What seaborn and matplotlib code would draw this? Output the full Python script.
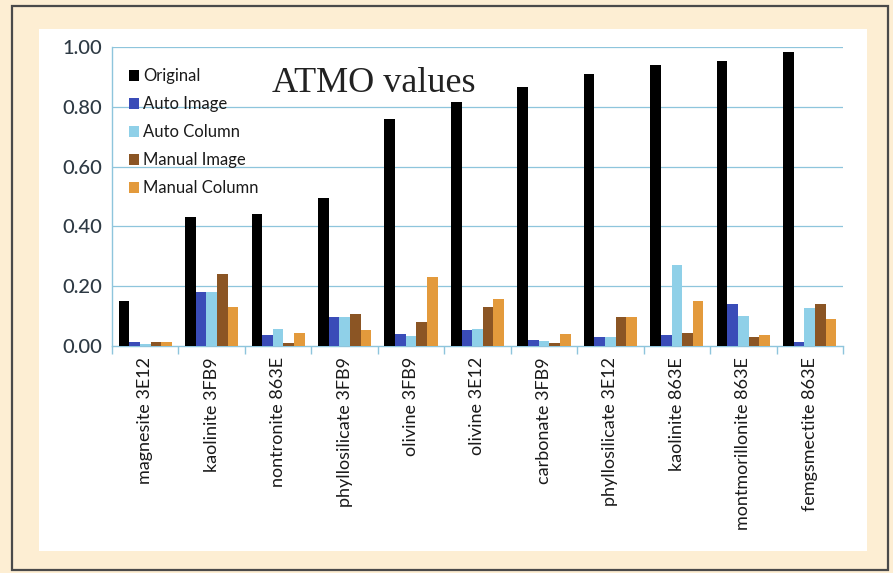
import matplotlib
matplotlib.use("Agg")
import matplotlib.pyplot as plt
import seaborn as sns
import pandas as pd
import numpy as np
from matplotlib.patches import Rectangle
from matplotlib.ticker import FixedLocator, FormatStrFormatter

categories = ["magnesite 3E12", "kaolinite 3FB9", "nontronite 863E", "phyllosilicate 3FB9",
              "olivine 3FB9", "olivine 3E12", "carbonate 3FB9", "phyllosilicate 3E12",
              "kaolinite 863E", "montmorillonite 863E", "femgsmectite 863E"]
series = ["Original", "Auto Image", "Auto Column", "Manual Image", "Manual Column"]
original      = [0.150, 0.432, 0.440, 0.495, 0.759, 0.816, 0.867, 0.909, 0.940, 0.954, 0.982]
auto_image    = [0.012, 0.180, 0.037, 0.096, 0.039, 0.054, 0.019, 0.031, 0.037, 0.140, 0.012]
auto_column   = [0.008, 0.180, 0.057, 0.096, 0.033, 0.058, 0.017, 0.031, 0.271, 0.099, 0.128]
manual_image  = [0.013, 0.242, 0.010, 0.106, 0.079, 0.131, 0.011, 0.096, 0.043, 0.030, 0.140]
manual_column = [0.013, 0.130, 0.045, 0.054, 0.230, 0.158, 0.039, 0.096, 0.152, 0.037, 0.089]
yticks = [0.0, 0.2, 0.4, 0.6, 0.8, 1.0]
colors = ["#000000", "#3a4cb8", "#8fd0e8", "#8b5524", "#e39a3c"]

values = [original, auto_image, auto_column, manual_image, manual_column]
df = pd.DataFrame({
    "category": [c for s in series for c in categories],
    "series": [s for s in series for c in categories],
    "value": [v for vals in values for v in vals],
})

sns.set_style("white")
plt.rcParams["font.family"] = ["Lato", "DejaVu Sans"]

W, H = 893, 573
fig = plt.figure(figsize=(W / 100, H / 100), dpi=100)
fig.patch.set_facecolor("#fdeed3")

# outer border and inner white panel
fig.patches.append(Rectangle((12 / W, 1 - 570 / H), (888 - 12) / W, (570 - 6) / H,
                             transform=fig.transFigure, facecolor="none",
                             edgecolor="#4a4a4a", lw=1.6, zorder=-10))
fig.patches.append(Rectangle((39 / W, 1 - 551 / H), (867 - 39) / W, (551 - 29) / H,
                             transform=fig.transFigure, facecolor="white",
                             edgecolor="none", zorder=-10))

ax = fig.add_axes([112 / W, 1 - 346 / H, (843 - 112) / W, (346 - 47) / H])
ax.set_facecolor("none")
ax.set_zorder(5)

sns.barplot(data=df, x="category", y="value", hue="series", order=categories,
            hue_order=series, palette=colors, width=0.8, saturation=1,
            edgecolor="none", linewidth=0, ax=ax, zorder=3)

grid_c = "#8ec5dc"
ax.set_ylim(0, 1.0)
ax.set_xlim(-0.5, len(categories) - 0.5)
ax.set_yticks(yticks)
ax.yaxis.set_major_formatter(FormatStrFormatter("%.2f"))
for y in yticks[1:]:
    ax.axhline(y, color=grid_c, lw=0.9, zorder=1)

for side in ["top", "right"]:
    ax.spines[side].set_visible(False)
for side in ["left", "bottom"]:
    ax.spines[side].set_color(grid_c)
    ax.spines[side].set_linewidth(1.0)

ax.tick_params(axis="y", which="major", length=6, width=1.0, color=grid_c,
               labelsize=14.5, labelcolor="#2e3a44", pad=1)
for t in ax.get_yticklabels():
    t.set_fontweight("medium")
ax.xaxis.set_minor_locator(FixedLocator(np.arange(-0.5, len(categories), 1.0)))
ax.tick_params(axis="x", which="minor", length=6, width=1.0, color=grid_c, bottom=True)
ax.tick_params(axis="x", which="major", length=0, labelsize=13, labelcolor="#1a1a1a",
               pad=8, labelrotation=90)
ax.set_xlabel("")
ax.set_ylabel("")

handles, labels = ax.get_legend_handles_labels()
leg = ax.legend(handles, labels, loc="upper left", bbox_to_anchor=(0.0, 0.985),
                frameon=False, fontsize=12, handlelength=0.6, handleheight=0.6,
                handletextpad=0.25, labelspacing=0.72, borderaxespad=0.6)
for t in leg.get_texts():
    t.set_color("#1a1a1a")

fig.text(272 / W, 1 - 92 / H, "ATMO values", family="Liberation Serif", fontsize=26,
         color="#222222", ha="left", va="baseline")

fig.savefig("out.png", dpi=100, facecolor=fig.get_facecolor())
